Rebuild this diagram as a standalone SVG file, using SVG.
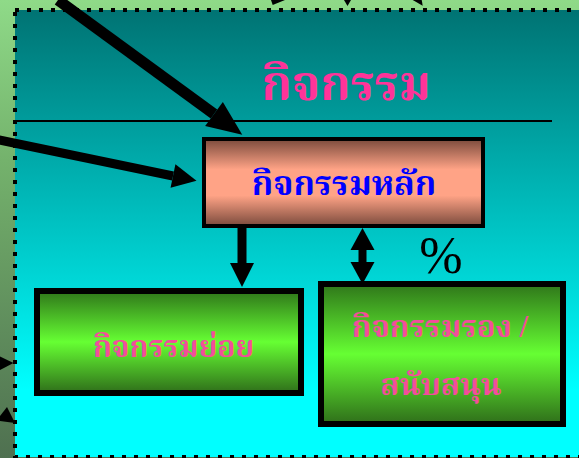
<svg xmlns="http://www.w3.org/2000/svg" width="579" height="458" viewBox="0 0 579 458">
  <defs>
    <linearGradient id="bgOut" x1="0" y1="0" x2="0" y2="1">
      <stop offset="0" stop-color="#8FDA88"/>
      <stop offset="0.35" stop-color="#74B26C"/>
      <stop offset="1" stop-color="#4F7050"/>
    </linearGradient>
    <linearGradient id="bgIn" x1="0" y1="0" x2="0" y2="1">
      <stop offset="0" stop-color="#007373"/>
      <stop offset="0.85" stop-color="#00FFFF"/>
      <stop offset="1" stop-color="#00FFFF"/>
    </linearGradient>
    <linearGradient id="salmon" x1="0" y1="0" x2="0" y2="1">
      <stop offset="0" stop-color="#7A4A3C"/>
      <stop offset="0.35" stop-color="#FFA386"/>
      <stop offset="0.65" stop-color="#FFA386"/>
      <stop offset="1" stop-color="#7A4A3C"/>
    </linearGradient>
    <linearGradient id="green" x1="0" y1="0" x2="0" y2="1">
      <stop offset="0" stop-color="#2F761A"/>
      <stop offset="0.5" stop-color="#66FF33"/>
      <stop offset="1" stop-color="#2F6E1A"/>
    </linearGradient>
    <marker id="head" markerUnits="userSpaceOnUse" markerWidth="24" markerHeight="24" refX="0" refY="12" orient="auto" overflow="visible">
      <path d="M0,0 L24,12 L0,24 z" fill="#000"/>
    </marker>
    <marker id="headBig" markerUnits="userSpaceOnUse" markerWidth="35" markerHeight="30" refX="0" refY="15" orient="auto" overflow="visible">
      <path d="M0,0 L35,15 L0,30 z" fill="#000"/>
    </marker>
    <marker id="headTail" markerUnits="userSpaceOnUse" markerWidth="24" markerHeight="24" refX="0" refY="12" orient="auto-start-reverse" overflow="visible">
      <path d="M0,0 L22,12 L0,24 z" fill="#000"/>
    </marker>
  </defs>
  <style>
    .box { stroke: #000; }
    .thai { font-family: "Liberation Serif", "Noto Serif Thai", serif; text-anchor: middle; font-weight: bold; }
    .pink { fill: #F24E9B; }
    .conn { stroke: #000; fill: none; }
    .tip { fill: #000; }
  </style>

  <rect x="0" y="0" width="579" height="458" fill="url(#bgOut)"/>
  <rect x="15" y="10" width="600" height="447" fill="url(#bgIn)" stroke="#000" stroke-width="4" stroke-dasharray="4 8"/>

  <g id="title">
    <text class="thai" x="346" y="100" font-size="48" fill="#FF3399">กิจกรรม</text>
    <line x1="17" y1="121" x2="552" y2="121" stroke="#000" stroke-width="2"/>
  </g>

  <g id="connectors">
    <line class="conn" x1="58" y1="0" x2="214" y2="114" stroke-width="11" marker-end="url(#headBig)"/>
    <line class="conn" x1="-20" y1="136" x2="173" y2="176" stroke-width="9" marker-end="url(#head)"/>
    <line class="conn" x1="242" y1="228" x2="242" y2="263" stroke-width="9" marker-end="url(#head)"/>
    <line class="conn" x1="362.5" y1="250" x2="362.5" y2="262" stroke-width="8" marker-start="url(#headTail)" marker-end="url(#headTail)"/>
    <polygon class="tip" points="271,0 285,0 272.7,5"/>
    <polygon class="tip" points="344,0 351,0 347.5,6"/>
    <polygon class="tip" points="412.7,0 421.7,0 422.7,5.7"/>
    <polygon class="tip" points="0,356.5 0,370 13.5,363"/>
    <polygon class="tip" points="7,407 15,423 0,421 0,416"/>
  </g>

  <g id="main">
    <rect class="box" x="204" y="139" width="279" height="87" fill="url(#salmon)" stroke-width="4"/>
    <text class="thai" x="344" y="195" font-size="34" fill="#0000FF">กิจกรรมหลัก</text>
  </g>

  <g id="sub">
    <rect class="box" x="37" y="291" width="264" height="102" fill="url(#green)" stroke-width="6"/>
    <text class="thai pink" x="173.5" y="357" font-size="30">กิจกรรมย่อย</text>
  </g>

  <g id="support">
    <rect class="box" x="321" y="284" width="242" height="140" fill="url(#green)" stroke-width="6"/>
    <text class="thai pink" x="440" y="337" font-size="31">กิจกรรมรอง /</text>
    <text class="thai pink" x="441" y="395" font-size="31">สนับสนุน</text>
  </g>

  <g id="percent">
    <text x="441" y="273" font-family="Liberation Serif, serif" font-size="52" text-anchor="middle" fill="#000">%</text>
  </g>
</svg>
